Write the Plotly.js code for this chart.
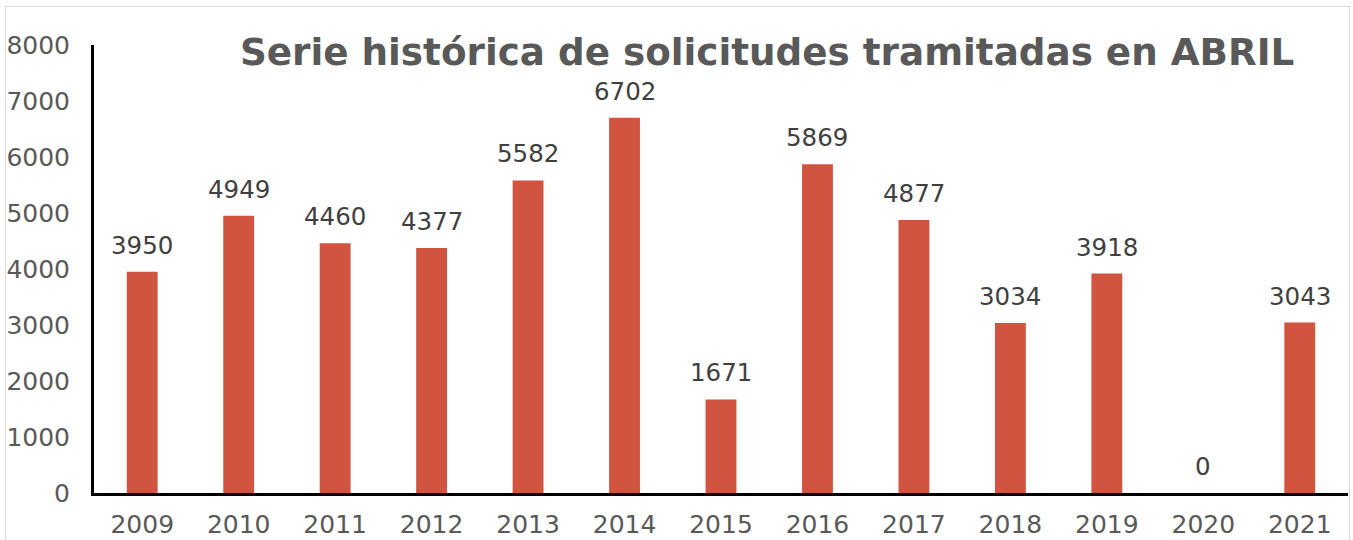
<!DOCTYPE html>
<html>
<head>
<meta charset="utf-8">
<script src="https://cdn.plot.ly/plotly-3.0.1.min.js"></script>
<style>
  html, body { margin: 0; padding: 0; background: #fff; }
  #wrap { position: relative; width: 1353px; height: 540px; }
  #chart { position: absolute; left: 0; top: 0; width: 1353px; height: 540px; }
  #frame { position: absolute; left: 5px; top: 6px; width: 1343px; height: 560px; border: 1px solid #d9d9d9; pointer-events: none; }
</style>
</head>
<body>
<div id="wrap">
  <div id="chart"></div>
  <div id="frame"></div>
</div>
<script>
const years = ["2009","2010","2011","2012","2013","2014","2015","2016","2017","2018","2019","2020","2021"];
const solicitudes = [3950, 4949, 4460, 4377, 5582, 6702, 1671, 5869, 4877, 3034, 3918, 0, 3043];
const chartTitle = "Serie histórica de solicitudes tramitadas en ABRIL";

const FONT = 'DejaVu Sans, Verdana, sans-serif';

const labels = years.map((y, i) => ({
  x: i, y: solicitudes[i], xref: 'x', yref: 'y',
  text: String(solicitudes[i]), showarrow: false,
  yanchor: 'bottom', yshift: 10,
  font: {family: FONT, size: 24.5, color: '#404040'}
}));

const trace = {
  type: 'bar', x: years, y: solicitudes,
  marker: {color: '#D05440'},
  hoverinfo: 'x+y'
};

const layout = {
  width: 1353, height: 540,
  margin: {l: 94, r: 5, t: 45, b: 47, pad: 0},
  paper_bgcolor: '#ffffff', plot_bgcolor: '#ffffff',
  bargap: 0.68,
  showlegend: false,
  font: {family: FONT, size: 25, color: '#595959'},
  title: {
    text: '<b>' + chartTitle + '</b>',
    font: {family: FONT, size: 37.3, color: '#595959'},
    xref: 'container', yref: 'container', x: 0.567, y: 0.904,
    xanchor: 'center', yanchor: 'middle'
  },
  xaxis: {
    type: 'category', range: [-0.5, years.length - 0.5],
    showline: true, linecolor: '#000000', linewidth: 3,
    showgrid: false, zeroline: false,
    ticks: 'outside', ticklen: 7, tickcolor: 'rgba(0,0,0,0)',
    tickfont: {family: FONT, size: 25, color: '#595959'}
  },
  yaxis: {
    range: [0, 8000], dtick: 1000, tick0: 0,
    showline: true, linecolor: '#000000', linewidth: 3,
    showgrid: false, zeroline: false,
    ticks: 'outside', ticklen: 16, tickcolor: 'rgba(0,0,0,0)',
    tickfont: {family: FONT, size: 25, color: '#595959'}
  },
  annotations: labels
};

Plotly.newPlot('chart', [trace], layout, {displayModeBar: false, staticPlot: true});
</script>
</body>
</html>
